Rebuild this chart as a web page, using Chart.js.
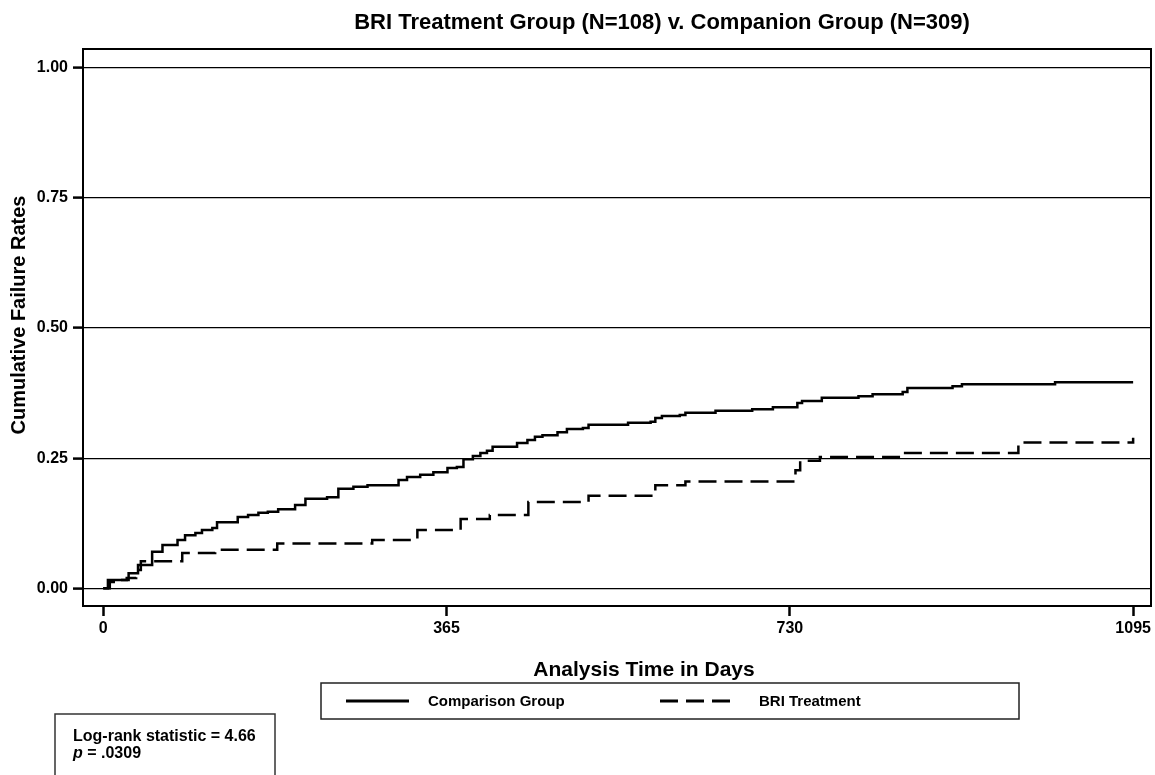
<!DOCTYPE html>
<html><head><meta charset="utf-8">
<script src="https://cdn.jsdelivr.net/npm/chart.js@4/dist/chart.umd.min.js"></script>
<style>html,body{margin:0;padding:0;background:#fff}#wrap{width:1155px;height:775px;position:relative}</style>
</head><body><div id="wrap"><canvas id="c" width="1155" height="775"></canvas></div>
<script>
const titleText = 'BRI Treatment Group (N=108) v. Companion Group (N=309)';
const xTitle = 'Analysis Time in Days';
const yTitle = 'Cumulative Failure Rates';
const xTickValues = [0, 365, 730, 1095];
const xTickLabels = ['0', '365', '730', '1095'];
const yTickValues = [0, 0.25, 0.5, 0.75, 1];
const yTickLabels = ['0.00', '0.25', '0.50', '0.75', '1.00'];
const seriesNames = ['Comparison Group', 'BRI Treatment'];
const statLines = ['Log-rank statistic = 4.66', '= .0309'];

const comparisonDays = [0, 5, 27, 37, 52, 63, 79, 87, 98, 105, 116, 121, 143, 154, 165, 175, 186, 204, 215, 238, 250, 266, 281, 314, 323, 337, 351, 366, 376, 383, 393, 401, 408, 414, 440, 451, 459, 467, 483, 493, 510, 516, 558, 582, 587, 594, 613, 619, 651, 690, 712, 738, 743, 764, 803, 818, 850, 855, 903, 913, 1012, 1095];
const comparisonRates = [0, 0.016, 0.029, 0.045, 0.070, 0.083, 0.093, 0.102, 0.106, 0.112, 0.116, 0.127, 0.137, 0.141, 0.145, 0.147, 0.152, 0.160, 0.172, 0.175, 0.191, 0.195, 0.198, 0.208, 0.214, 0.218, 0.223, 0.231, 0.233, 0.248, 0.254, 0.260, 0.264, 0.272, 0.279, 0.285, 0.291, 0.294, 0.300, 0.306, 0.308, 0.314, 0.318, 0.320, 0.327, 0.331, 0.333, 0.337, 0.341, 0.344, 0.348, 0.356, 0.360, 0.366, 0.369, 0.373, 0.377, 0.385, 0.388, 0.392, 0.396, 0.396];

const briDays = [0, 7, 16, 25, 35, 40, 84, 119, 185, 286, 334, 380, 411, 452, 516, 587, 619, 736, 741, 762, 850, 973, 1095];
const briRates = [0, 0.012, 0.016, 0.020, 0.035, 0.052, 0.068, 0.074, 0.086, 0.093, 0.112, 0.133, 0.141, 0.166, 0.178, 0.198, 0.205, 0.227, 0.245, 0.252, 0.260, 0.280, 0.289];

const FONT = '"Liberation Sans", Arial, Helvetica, sans-serif';
const toPts = (xs, ys) => xs.map((x, i) => ({x: x, y: ys[i]}));
const labelFor = (vals, labels) => v => { const i = vals.indexOf(v); return i >= 0 ? labels[i] : ''; };

const decor = {
  id: 'decor',
  afterDraw(chart) {
    const ctx = chart.ctx;
    const a = chart.chartArea;
    ctx.save();
    ctx.strokeStyle = '#000';
    ctx.lineWidth = 2;
    ctx.strokeRect(a.left, a.top, a.right - a.left, a.bottom - a.top);
    ctx.fillStyle = '#000';
    ctx.textAlign = 'center';
    ctx.textBaseline = 'alphabetic';
    ctx.font = 'bold 22px ' + FONT;
    ctx.fillText(titleText, 662, 29);
    ctx.font = 'bold 21px ' + FONT;
    ctx.fillText(xTitle, 644, 676);
    ctx.save();
    ctx.translate(25, 315);
    ctx.rotate(-Math.PI / 2);
    ctx.font = 'bold 20px ' + FONT;
    ctx.fillText(yTitle, 0, 0);
    ctx.restore();
    ctx.lineWidth = 1.5;
    ctx.strokeStyle = '#222';
    ctx.strokeRect(321, 683, 698, 36);
    const ds = chart.data.datasets;
    const items = [{x0: 346, x1: 409, tx: 428}, {x0: 656, x1: 738, tx: 759}];
    ctx.textAlign = 'left';
    ctx.font = 'bold 15px ' + FONT;
    items.forEach((it, i) => {
      ctx.save();
      ctx.strokeStyle = ds[i].borderColor;
      ctx.lineWidth = 3;
      ctx.setLineDash(ds[i].borderDash || []);
      ctx.lineDashOffset = ds[i].borderDash ? 22 : 0;
      ctx.beginPath();
      ctx.moveTo(it.x0, 701);
      ctx.lineTo(it.x1, 701);
      ctx.stroke();
      ctx.restore();
      ctx.fillText(ds[i].label, it.tx, 706);
    });
    ctx.strokeStyle = '#333';
    ctx.lineWidth = 1.5;
    ctx.strokeRect(55, 714, 220, 70);
    ctx.font = 'bold 16px ' + FONT;
    ctx.fillText(statLines[0], 73, 741);
    ctx.font = 'italic bold 16px ' + FONT;
    ctx.fillText('p', 73, 758);
    const pw = ctx.measureText('p ').width;
    ctx.font = 'bold 16px ' + FONT;
    ctx.fillText(statLines[1], 73 + pw, 758);
    ctx.restore();
  }
};

new Chart(document.getElementById('c'), {
  type: 'line',
  data: {
    datasets: [
      {label: seriesNames[0], data: toPts(comparisonDays, comparisonRates), borderColor: '#000', borderWidth: 2.5, stepped: true, pointRadius: 0, fill: false},
      {label: seriesNames[1], data: toPts(briDays, briRates), borderColor: '#000', borderWidth: 2.5, borderDash: [18, 8], stepped: true, pointRadius: 0, fill: false}
    ]
  },
  options: {
    responsive: false,
    animation: false,
    devicePixelRatio: 1,
    layout: {padding: {left: 0, right: 4, top: 49, bottom: 0}},
    plugins: {legend: {display: false}, title: {display: false}, tooltip: {enabled: false}},
    scales: {
      x: {
        type: 'linear', min: -21.5, max: 1114,
        afterBuildTicks: s => { s.ticks = xTickValues.map(v => ({value: v})); },
        afterFit: s => { s.height = 169; },
        ticks: {autoSkip: false, maxRotation: 0, padding: 3, color: '#000', callback: labelFor(xTickValues, xTickLabels), font: {family: FONT, size: 16, weight: 'bold'}},
        grid: {drawOnChartArea: false, drawTicks: true, tickLength: 10, tickWidth: 2.5, tickColor: '#000'},
        border: {display: false}
      },
      y: {
        min: -0.034, max: 1.036,
        afterBuildTicks: s => { s.ticks = yTickValues.map(v => ({value: v})); },
        afterFit: s => { s.width = 83; },
        ticks: {padding: 5, color: '#000', callback: labelFor(yTickValues, yTickLabels), font: {family: FONT, size: 16, weight: 'bold'}},
        grid: {color: '#000', lineWidth: 1.2, tickLength: 10, tickWidth: 2.5, tickColor: '#000'},
        border: {display: false}
      }
    }
  },
  plugins: [decor]
});
</script></body></html>
